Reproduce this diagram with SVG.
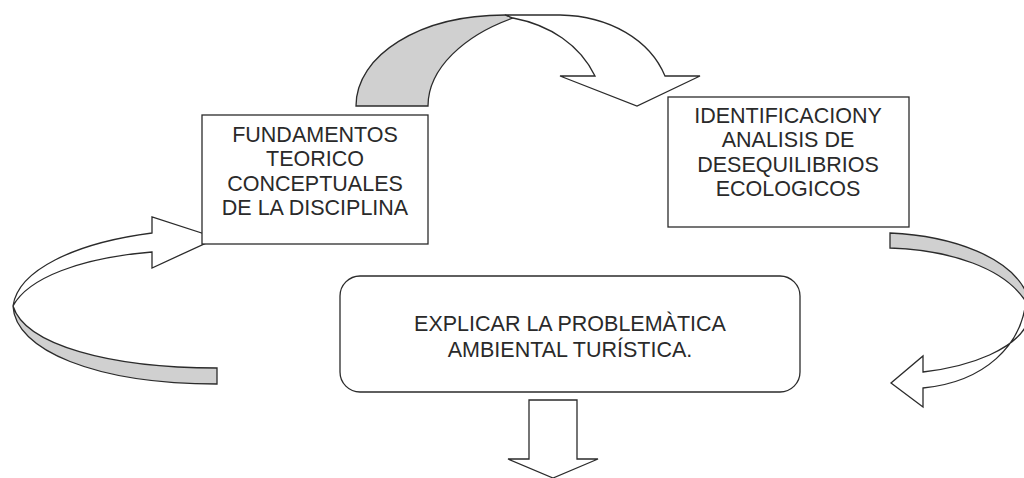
<svg xmlns="http://www.w3.org/2000/svg" width="1024" height="478" viewBox="0 0 1024 478">
<style>
.box{fill:#fff;stroke:#2b2b2b;stroke-width:1.3}
.w{fill:#fff;stroke:#2b2b2b;stroke-width:1.3;stroke-linejoin:miter}
.g{fill:#d0d0d0;stroke:#2b2b2b;stroke-width:1.3}
.t{font-family:"Liberation Sans",Arial,sans-serif;font-size:21.5px;fill:#2a2a2a;text-anchor:middle}
</style>
<rect width="1024" height="478" fill="#fff"/>
<g id="connectors">
  <g id="arrow-top">
    <path class="g" d="M356,106 C356,55 420,15 505,15 L513,18 C465,35 428,68 428,106 Z"/>
    <path class="w" d="M505,15 L560,15 C610,16 650,40 665,76 L700,76 L637,106 L560,76 L595,76 C580,45 550,25 513,18 Z"/>
  </g>
  <g id="arrow-left">
    <path class="g" d="M13,306 C25,345 110,368 217,368 L217,384 C95,384 15,350 13,306 Z"/>
    <path class="w" d="M13,306 C18,270 75,243 152,233 L152,217 L217,238 L152,268 L152,252 C80,258 28,278 13,306 Z"/>
  </g>
  <g id="arrow-right">
    <path class="g" d="M890,233 C955,236 1010,258 1026,292 L1026,302 C1005,268 950,250 890,248 Z"/>
    <path class="w" d="M1026,300 C1022,345 985,382 923,388 L923,407 L891,383 L923,356 L923,372 C975,366 1014,348 1026,326 Z"/>
  </g>
  <g id="arrow-down">
    <path class="w" d="M529,400 L577,400 L577,459 L598,459 L553,478 L508,459 L529,459 Z"/>
  </g>
</g>
<g id="node-fundamentos">
  <rect class="box" x="202" y="115" width="226" height="129"/>
  <text class="t" x="315" y="142">FUNDAMENTOS</text>
  <text class="t" x="315" y="166">TEORICO</text>
  <text class="t" x="315" y="191">CONCEPTUALES</text>
  <text class="t" x="315" y="215">DE LA DISCIPLINA</text>
</g>
<g id="node-identificacion">
  <rect class="box" x="668" y="97" width="241" height="130"/>
  <text class="t" x="788" y="123">IDENTIFICACIONY</text>
  <text class="t" x="788" y="147">ANALISIS DE</text>
  <text class="t" x="788" y="172">DESEQUILIBRIOS</text>
  <text class="t" x="788" y="196">ECOLOGICOS</text>
</g>
<g id="node-explicar">
  <rect class="box" x="340" y="276" width="460" height="116" rx="20" ry="20"/>
  <text class="t" x="570" y="331">EXPLICAR LA PROBLEMÀTICA</text>
  <text class="t" x="570" y="357">AMBIENTAL TURÍSTICA.</text>
</g>
</svg>
